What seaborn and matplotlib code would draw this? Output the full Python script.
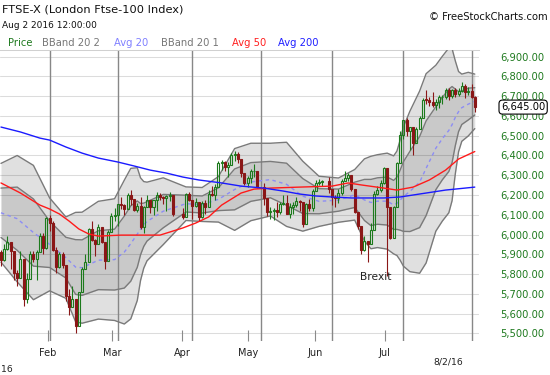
import numpy as np
import pandas as pd
import matplotlib
matplotlib.use("Agg")
import matplotlib.pyplot as plt
import matplotlib.transforms as mtransforms
import seaborn as sns

# ---------------- data ----------------
start_date = "2016-01-11"
end_date = "2016-08-02"
market_holidays = ["2016-03-25", "2016-03-28", "2016-05-02", "2016-05-30"]

opens = [5912, 5872, 5929, 5961, 5918, 5804, 5780, 5877, 5674, 5774,
         5900, 5877, 5911, 5990, 5932, 6084, 6060, 5922, 5837, 5899,
         5848, 5689, 5632, 5672, 5537, 5708, 5824, 5862, 6030, 5972,
         5950, 6038, 5962, 5867, 6013, 6096, 6097, 6153, 6147, 6130,
         6199, 6182, 6125, 6146, 6037, 6140, 6175, 6140, 6175, 6201,
         6190, 6185, 6193, 6199, 6106, 6091, 6203, 6175, 6146, 6165,
         6091, 6162, 6137, 6204, 6200, 6242, 6363, 6365, 6344, 6354,
         6405, 6410, 6381, 6310, 6261, 6285, 6320, 6322, 6242, 6186,
         6112, 6117, 6126, 6115, 6157, 6162, 6104, 6139, 6151, 6168,
         6166, 6053, 6156, 6136, 6219, 6263, 6266, 6271, 6231, 6192,
         6186, 6210, 6273, 6285, 6302, 6232, 6116, 6045, 5924, 5967,
         5950, 6021, 6204, 6227, 6261, 6338, 6139, 5982, 6140, 6360,
         6504, 6578, 6522, 6545, 6464, 6534, 6591, 6683, 6681, 6670,
         6654, 6669, 6695, 6697, 6729, 6700, 6730, 6710, 6724, 6750,
         6721, 6724, 6694]
highs = [5924, 5950, 5990, 5961, 5918, 5818, 5917, 5877, 5806, 5917,
         5917, 5920, 6010, 6010, 6087, 6100, 6068, 5935, 5912, 5914,
         5848, 5725, 5740, 5672, 5710, 5838, 5900, 6033, 6068, 5976,
         6052, 6038, 5962, 6023, 6110, 6135, 6157, 6188, 6154, 6212,
         6223, 6182, 6160, 6191, 6142, 6200, 6175, 6175, 6215, 6212,
         6196, 6198, 6214, 6199, 6134, 6210, 6217, 6175, 6183, 6165,
         6170, 6175, 6226, 6247, 6254, 6372, 6378, 6370, 6365, 6414,
         6425, 6420, 6381, 6310, 6295, 6330, 6355, 6322, 6260, 6186,
         6140, 6135, 6166, 6164, 6202, 6200, 6160, 6165, 6190, 6175,
         6166, 6160, 6180, 6230, 6275, 6280, 6277, 6290, 6231, 6200,
         6230, 6280, 6320, 6310, 6302, 6232, 6116, 6045, 5990, 5967,
         6060, 6220, 6245, 6275, 6340, 6338, 6139, 6143, 6367, 6523,
         6580, 6590, 6545, 6545, 6545, 6600, 6690, 6730, 6695, 6720,
         6685, 6705, 6705, 6740, 6740, 6735, 6742, 6740, 6770, 6760,
         6745, 6760, 6700]
lows = [5840, 5865, 5920, 5825, 5769, 5740, 5780, 5639, 5652, 5774,
        5860, 5770, 5911, 5903, 5926, 6020, 5917, 5806, 5830, 5830,
        5665, 5593, 5632, 5500, 5537, 5708, 5823, 5862, 5969, 5893,
        5950, 5955, 5824, 5867, 6013, 6070, 6042, 6130, 6100, 6130,
        6150, 6120, 6114, 6030, 6010, 6140, 6110, 6100, 6120, 6176,
        6155, 6117, 6170, 6092, 6080, 6091, 6170, 6080, 6140, 6066,
        6082, 6104, 6137, 6193, 6176, 6242, 6325, 6320, 6290, 6354,
        6370, 6362, 6292, 6250, 6240, 6260, 6290, 6234, 6150, 6096,
        6080, 6071, 6090, 6103, 6150, 6104, 6082, 6104, 6137, 6120,
        6040, 6053, 6120, 6120, 6219, 6250, 6245, 6210, 6150, 6140,
        6160, 6200, 6273, 6270, 6220, 6110, 6030, 5900, 5915, 5860,
        5950, 6021, 6200, 6215, 6255, 5788, 5975, 5982, 6140, 6360,
        6485, 6500, 6430, 6400, 6464, 6534, 6591, 6660, 6650, 6645,
        6630, 6640, 6660, 6685, 6680, 6690, 6695, 6700, 6720, 6690,
        6705, 6690, 6620]
closes = [5872, 5929, 5961, 5918, 5804, 5780, 5877, 5674, 5774, 5900,
          5877, 5911, 5990, 5932, 6084, 6060, 5922, 5837, 5899, 5848,
          5689, 5632, 5672, 5537, 5708, 5824, 5862, 6030, 5972, 5950,
          6038, 5962, 5867, 6013, 6096, 6097, 6153, 6147, 6130, 6199,
          6182, 6125, 6146, 6037, 6140, 6175, 6140, 6175, 6201, 6190,
          6185, 6193, 6199, 6106, 6091, 6203, 6175, 6146, 6165, 6091,
          6162, 6137, 6204, 6200, 6242, 6363, 6365, 6344, 6354, 6405,
          6410, 6381, 6310, 6261, 6285, 6320, 6322, 6242, 6186, 6112,
          6117, 6126, 6115, 6157, 6162, 6104, 6139, 6151, 6168, 6166,
          6053, 6156, 6136, 6219, 6263, 6266, 6271, 6231, 6192, 6186,
          6210, 6273, 6285, 6302, 6232, 6116, 6045, 5924, 5967, 5950,
          6021, 6204, 6227, 6261, 6338, 6139, 5982, 6140, 6360, 6504,
          6578, 6522, 6545, 6464, 6534, 6591, 6683, 6681, 6670, 6654,
          6669, 6695, 6697, 6729, 6700, 6730, 6710, 6724, 6750, 6721,
          6724, 6694, 6645]

# Bollinger bands (20, 2) and (20, 1) with the 20-day average, read at these candle numbers
band_points = [0, 5, 10, 15, 20, 23, 25, 30, 35, 38, 40, 42, 43, 44, 45, 50, 55, 60, 65, 70,
               75, 80, 85, 90, 95, 100, 105, 108, 110, 112, 115, 117, 118, 119, 120, 122,
               125, 127, 130, 132, 134, 135, 136, 137, 138, 140, 142]
bb_mid = [6110, 6080, 6010, 5950, 5883, 5835, 5832, 5870, 5873, 5911, 5954, 6002, 6027, 6049,
          6066, 6118, 6156, 6152, 6178, 6228, 6266, 6278, 6254, 6194, 6168, 6174, 6201, 6175,
          6162, 6169, 6169, 6150, 6158, 6174, 6192, 6218, 6265, 6335, 6437, 6485, 6527, 6556,
          6593, 6622, 6642, 6660, 6674]
bb_upper2 = [6360, 6400, 6350, 6185, 6089, 6112, 6113, 6168, 6181, 6275, 6335, 6338, 6287, 6268,
             6265, 6287, 6241, 6238, 6293, 6435, 6462, 6462, 6467, 6371, 6295, 6286, 6329, 6383,
             6396, 6404, 6412, 6398, 6422, 6478, 6544, 6624, 6726, 6814, 6857, 6902, 6944, 6941,
             6879, 6825, 6812, 6821, 6812]
bb_lower2 = [5860, 5760, 5670, 5715, 5677, 5558, 5551, 5572, 5565, 5547, 5573, 5666, 5767, 5830,
             5867, 5949, 6071, 6066, 6063, 6021, 6070, 6094, 6041, 6017, 6041, 6062, 6073, 5967,
             5928, 5934, 5926, 5902, 5894, 5870, 5840, 5812, 5804, 5856, 6017, 6068, 6110, 6171,
             6307, 6419, 6472, 6499, 6536]
bb_upper1 = [6235, 6240, 6180, 6068, 5986, 5974, 5973, 6019, 6027, 6093, 6145, 6170, 6157, 6159,
             6166, 6203, 6199, 6195, 6236, 6332, 6364, 6370, 6361, 6283, 6232, 6230, 6265, 6279,
             6279, 6287, 6291, 6274, 6290, 6326, 6368, 6421, 6496, 6575, 6647, 6694, 6736, 6749,
             6736, 6724, 6727, 6741, 6743]
bb_lower1 = [5985, 5920, 5840, 5833, 5780, 5697, 5692, 5721, 5719, 5729, 5764, 5834, 5897, 5940,
             5967, 6034, 6114, 6109, 6121, 6125, 6168, 6186, 6148, 6106, 6105, 6118, 6137, 6071,
             6045, 6052, 6048, 6026, 6026, 6022, 6016, 6015, 6035, 6096, 6227, 6277, 6319, 6364,
             6450, 6521, 6557, 6580, 6605]

avg50_points = [0, 6, 12, 15, 18, 21, 24, 27, 30, 37, 43, 49, 54, 58, 62, 66, 72, 76, 80, 89,
                98, 103, 107, 114, 118, 123, 128, 133, 137, 142]
avg50 = [6261, 6210, 6149, 6129, 6104, 6068, 6028, 6003, 5992, 5997, 5997, 5997, 6033, 6058, 6089,
         6149, 6210, 6230, 6235, 6240, 6245, 6261, 6251, 6235, 6225, 6240, 6276, 6326, 6382, 6420]
avg200_points = [0, 6, 12, 15, 20, 25, 30, 36, 41, 46, 51, 54, 59, 66, 72, 78, 84, 89, 94, 98,
                 104, 114, 119, 125, 133, 142]
avg200 = [6544, 6519, 6488, 6478, 6443, 6412, 6387, 6367, 6347, 6326, 6311, 6291, 6276, 6261,
          6245, 6235, 6220, 6205, 6195, 6190, 6185, 6185, 6190, 6205, 6225, 6240]

price_levels = [5500, 5600, 5700, 5800, 5900, 6000, 6100, 6200, 6300, 6400, 6500, 6600, 6700,
                6800, 6900]
month_labels = ["Feb", "Mar", "Apr", "May", "Jun", "Jul"]
last_label = "8/2/16"
title_text = "FTSE-X (London Ftse-100 Index)"
stamp_text = "Aug 2 2016 12:00:00"
brexit_day = "2016-06-24"

# ---------------- layout / style ----------------
W, H = 550, 375
month_label_pos = [14.5, 34.2, 55.8, 76.1, 96.8, 118.3]
last_label_pos = 139.3

sns.set_style("white")
plt.rcParams["font.family"] = ["DejaVu Sans"]

GREEN = "#1c7a1c"
RED = "#8a1717"
LABEL_GREEN = "#1f7a1f"
GREY_TXT = "#777777"

days = pd.bdate_range(start_date, end_date)
days = days[~days.isin(pd.to_datetime(market_holidays))]
day0 = np.datetime64(start_date)
slot = np.busday_count(day0, days.values.astype("datetime64[D]")).astype(float)

o = np.array(opens, float)
h = np.array(highs, float)
l = np.array(lows, float)
c = np.array(closes, float)

fig = plt.figure(figsize=(W / 100, H / 100), dpi=100)
ax = fig.add_axes([0.0, 1 - 341 / H, 479 / W, 291 / H])
ax.set_xlim(-0.3, 147.3)
ax.set_ylim(5461, 6934)
ax.set_facecolor("white")

def px(x, y):
    return x / W, 1 - y / H

# horizontal grid
for p in price_levels:
    ax.axhline(p, color="#dcdcdc", lw=0.75, zorder=0.5)

# band fills
bx = slot[band_points]
ax.fill_between(bx, bb_lower2, bb_upper2, color="black", alpha=0.12, lw=0, zorder=1)
ax.fill_between(bx, bb_lower1, bb_upper1, color="black", alpha=0.10, lw=0, zorder=1.1)

# month lines
month_starts = pd.date_range("2016-02-01", "2016-08-01", freq="BMS")
ms = np.busday_count(day0, month_starts.values.astype("datetime64[D]"))
for m in ms:
    ax.axvline(m, color="#878787", lw=1.0, zorder=2)

# band outlines
for series in [bb_upper2, bb_lower2, bb_upper1, bb_lower1]:
    sns.lineplot(x=bx, y=series, ax=ax, color="#7a7a7a", lw=1.0, zorder=3, legend=False)
sns.lineplot(x=bx, y=bb_mid, ax=ax, color="#8c8cf5", lw=1.0, linestyle=(0, (2.5, 2.5)),
             zorder=4, legend=False)

# candles
up = c >= o
body_lo = np.minimum(o, c)
body_hi = np.maximum(o, c)
col = np.where(up, GREEN, RED)
ax.vlines(slot, body_hi, h, colors=col, lw=0.8, zorder=5)
ax.vlines(slot, l, body_lo, colors=col, lw=0.8, zorder=5)
heights = np.maximum(body_hi - body_lo, 3)
ax.bar(slot[up], heights[up], bottom=body_lo[up], width=0.62, facecolor="none",
       edgecolor=GREEN, linewidth=0.8, zorder=5)
ax.bar(slot[~up], heights[~up], bottom=body_lo[~up], width=0.62, facecolor=RED,
       edgecolor=RED, linewidth=0.8, zorder=5)

# moving averages
sns.lineplot(x=slot[avg50_points], y=avg50, ax=ax, color="#ff1a1a", lw=1.0, zorder=6, legend=False)
sns.lineplot(x=slot[avg200_points], y=avg200, ax=ax, color="#1a1aff", lw=1.0, zorder=6, legend=False)

# axes decoration
for side in ["left", "right", "bottom"]:
    ax.spines[side].set_visible(False)
ax.spines["top"].set_color("#d0d0d0")
ax.spines["top"].set_linewidth(0.75)

ax.yaxis.tick_right()
ax.set_yticks(price_levels)
ax.set_yticklabels([f"{p:,.2f}" for p in price_levels])
ax.tick_params(axis="y", length=0, pad=15, labelsize=7.2, labelcolor=LABEL_GREEN)

ax.set_xticks(month_label_pos)
ax.set_xticklabels(month_labels)
ax.tick_params(axis="x", direction="in", length=8, width=0.8, color="#8a8a8a",
               labelsize=7, pad=5, labelcolor="#222222", bottom=True)
ax.set_xlabel("")
ax.set_ylabel("")

# last price box
trans = mtransforms.blended_transform_factory(ax.transAxes, ax.transData)
ax.text(501 / 479, c[-1], f"{c[-1]:,.2f}", transform=trans, fontsize=7.2, va="center",
        ha="left", color="black", zorder=10, clip_on=False,
        bbox=dict(boxstyle="round,pad=0.2,rounding_size=0.35", fc="white", ec="black", lw=0.8))

# Brexit annotation
bslot = np.busday_count(day0, np.datetime64(brexit_day))
ax.text(bslot - 3.6, 5785, "Brexit", fontsize=7.7, ha="center", va="center", color="#222222",
        zorder=10)

# header texts
fig.text(*px(2, 10), title_text, fontsize=8.2, ha="left", va="center", color="#111111")
fig.text(*px(2, 25), stamp_text, fontsize=6.5, ha="left", va="center", color="#111111")
fig.text(*px(548, 17), "\u00a9 FreeStockCharts.com", fontsize=7.2, ha="right", va="center",
         color="#111111")

legend_items = [("Price", LABEL_GREEN, 8), ("BBand 20 2", GREY_TXT, 42), ("Avg 20", "#8080ff", 114),
                ("BBand 20 1", GREY_TXT, 161), ("Avg 50", "#ff2020", 232), ("Avg 200", "#2020ff", 278)]
for txt, colr, xx in legend_items:
    fig.text(*px(xx, 43), txt, fontsize=7.2, ha="left", va="center", color=colr)

# bottom extra labels
fig.text(*px(448, 362), last_label, fontsize=6.7, ha="center", va="center", color="#222222")
fig.text(*px(1, 369), "16", fontsize=6.7, ha="left", va="center", color="#222222")

fig.savefig("out.png", dpi=100)
